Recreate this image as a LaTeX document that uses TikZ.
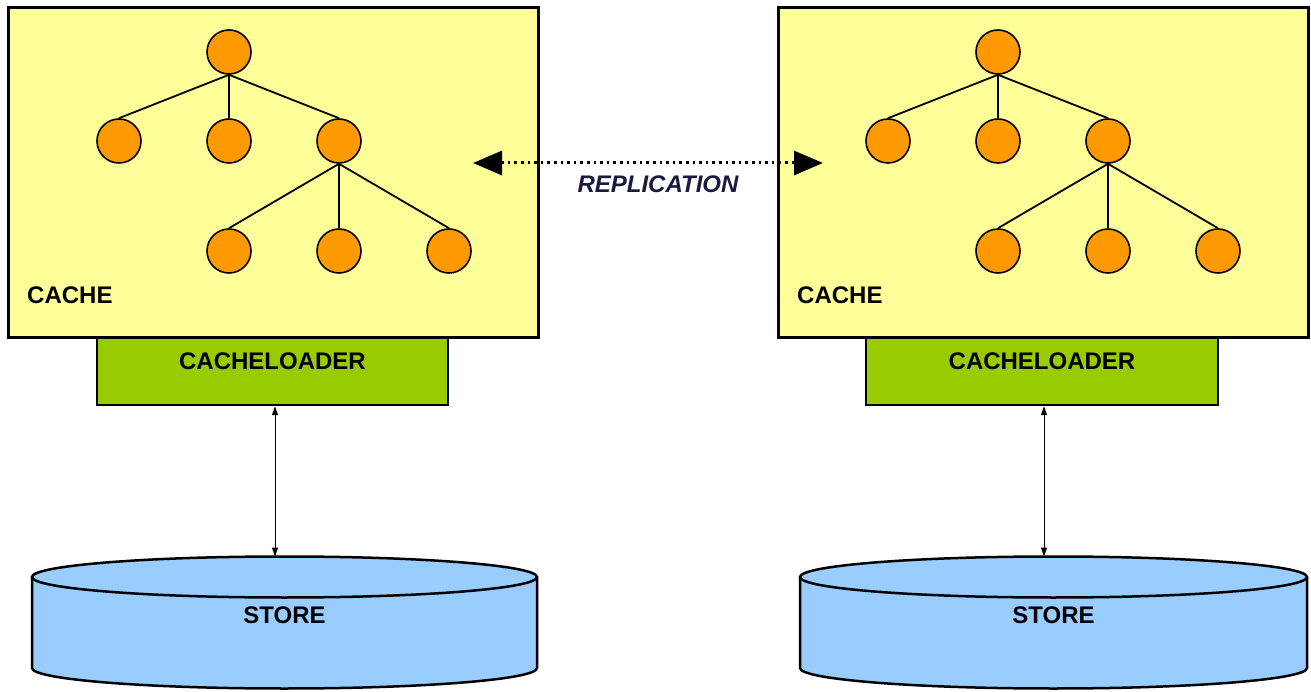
\documentclass[tikz,border=0pt]{standalone}
\usepackage{fontspec}
\setmainfont{Liberation Sans}
\usetikzlibrary{arrows.meta}
\definecolor{cacheyellow}{HTML}{FFFF99}
\definecolor{treeorange}{HTML}{FF9900}
\definecolor{loadergreen}{HTML}{99CC00}
\definecolor{storeblue}{HTML}{99CCFF}
\definecolor{repltext}{HTML}{1A1A40}
\tikzset{
  lbl/.style={font=\fontsize{24}{28}\selectfont\bfseries, inner sep=0pt},
  cachebox/.style={draw=black, fill=cacheyellow, line width=3pt, minimum width=530pt, minimum height=330pt, inner sep=0pt},
  loaderbox/.style={draw=black, fill=loadergreen, line width=2.5pt, minimum height=67pt, inner sep=0pt,
    font=\fontsize{24}{28}\selectfont\bfseries, text height=17pt, text depth=21.5pt},
  tnode/.style={circle, draw=black, fill=treeorange, line width=1.6pt, minimum size=44pt, inner sep=0pt},
  tedge/.style={line width=1.8pt, draw=black},
  storeline/.style={line width=2.5pt, draw=black},
  vconn/.style={line width=1pt, {Triangle[length=9pt,width=6pt]}-{Triangle[length=9pt,width=6pt]}},
  repl/.style={line width=3pt, dash pattern=on 2.6pt off 4pt, {Triangle[length=29pt,width=24pt]}-{Triangle[length=29pt,width=24pt]}},
}
\begin{document}
\begin{tikzpicture}[x=1pt,y=1pt]
\useasboundingbox (0,0) rectangle (1311,691);
\fill[white] (0,0) rectangle (1311,691);

% ---------- cache boxes ----------
\node[cachebox] (cacheA) at (273,518) {};
\node[cachebox] (cacheB) at (1043,518) {};
\node[lbl, anchor=west] (cacheAlbl) at (27,396) {CACHE};
\node[lbl, anchor=west] (cacheBlbl) at (797,396) {CACHE};

% ---------- trees ----------
\foreach \s/\dx in {A/0, B/769} {
  \node[tnode] (r\s)  at (229+\dx,639) {};
  \node[tnode] (a\s)  at (119+\dx,550) {};
  \node[tnode] (b\s)  at (229+\dx,550) {};
  \node[tnode] (c\s)  at (339+\dx,550) {};
  \node[tnode] (d\s)  at (229+\dx,440) {};
  \node[tnode] (e\s)  at (339+\dx,440) {};
  \node[tnode] (f\s)  at (449+\dx,440) {};
  \draw[tedge] (r\s.south) -- (a\s.north);
  \draw[tedge] (r\s.south) -- (b\s.north);
  \draw[tedge] (r\s.south) -- (c\s.north);
  \draw[tedge] (c\s.south) -- (d\s.north);
  \draw[tedge] (c\s.south) -- (e\s.north);
  \draw[tedge] (c\s.south) -- (f\s.north);
}

% ---------- cache loaders ----------
\node[loaderbox, minimum width=351pt] (ldA) at (272.5,319.5) {CACHELOADER};
\node[loaderbox, minimum width=352pt] (ldB) at (1042,319.5) {CACHELOADER};

% ---------- stores (cylinders) ----------
\foreach \s/\cx/\rx in {A/284.5/252.5, B/1053.5/253.5} {
  \fill[storeblue] (\cx-\rx,114) -- (\cx-\rx,23)
     arc[start angle=180, end angle=360, x radius=\rx, y radius=20.5]
     -- (\cx+\rx,114)
     arc[start angle=0, end angle=180, x radius=\rx, y radius=20.5] -- cycle;
  \draw[storeline] (\cx-\rx,114) -- (\cx-\rx,23)
     arc[start angle=180, end angle=360, x radius=\rx, y radius=20.5]
     -- (\cx+\rx,114);
  \draw[storeline] (\cx,114) ellipse[x radius=\rx, y radius=20.5];
}
\node[lbl] (stA) at (284.5,76) {STORE};
\node[lbl] (stB) at (1053.5,76) {STORE};
\coordinate (stAtop) at (275,134.5);
\coordinate (stBtop) at (1044,134.5);

% ---------- loader <-> store ----------
\draw[vconn] (ldA.south -| stAtop) -- (stAtop);
\draw[vconn] (ldB.south -| stBtop) -- (stBtop);

% ---------- replication ----------
\coordinate (replL) at (473,528);
\coordinate (replR) at (823,528);
\draw[repl] (replL) -- (replR);
\node[lbl, text=repltext, font=\fontsize{24}{28}\selectfont\bfseries\itshape] (repllbl) at (658,507) {REPLICATION};
\end{tikzpicture}
\end{document}
